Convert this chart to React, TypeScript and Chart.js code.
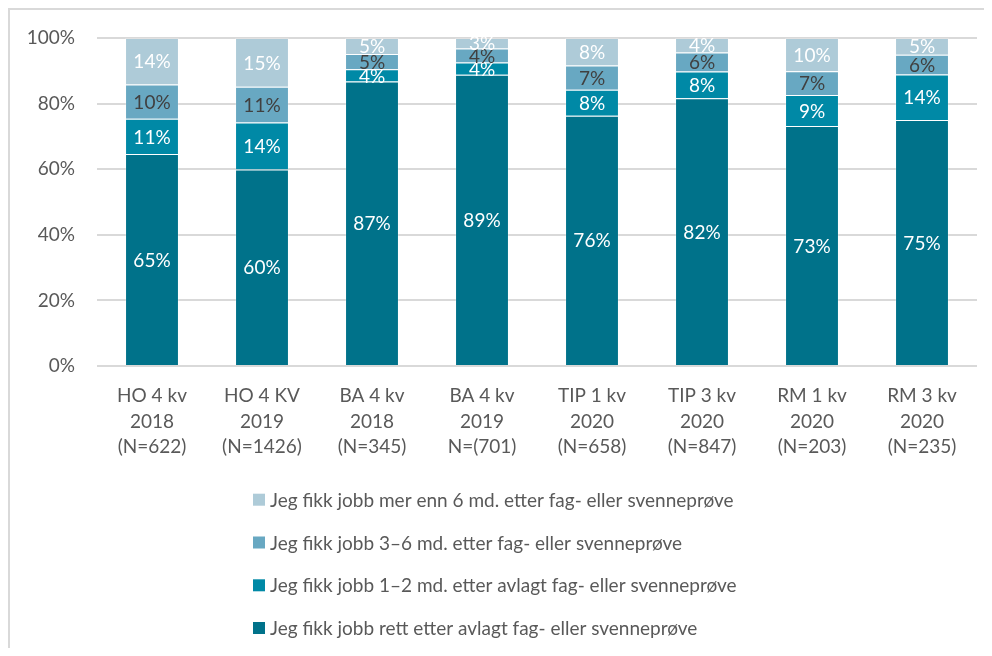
import React, { useEffect, useRef } from "react";
import { Chart, registerables } from "chart.js";

Chart.register(...registerables);

const categories: string[][] = [
  ["HO 4 kv", "2018", "(N=622)"],
  ["HO 4 KV", "2019", "(N=1426)"],
  ["BA 4 kv", "2018", "(N=345)"],
  ["BA 4 kv", "2019", "N=(701)"],
  ["TIP 1 kv", "2020", "(N=658)"],
  ["TIP 3 kv", "2020", "(N=847)"],
  ["RM 1 kv", "2020", "(N=203)"],
  ["RM 3 kv", "2020", "(N=235)"],
];

const seriesNames = [
  "Jeg fikk jobb rett etter avlagt fag- eller svenneprøve",
  "Jeg fikk jobb 1–2 md. etter avlagt fag- eller svenneprøve",
  "Jeg fikk jobb 3–6 md. etter fag- eller svenneprøve",
  "Jeg fikk jobb mer enn 6 md. etter fag- eller svenneprøve",
];

const rettEtter = [64.6, 59.9, 86.7, 88.8, 76.3, 81.6, 73.2, 75.0];
const enTilToMd = [10.8, 14.3, 3.8, 3.7, 7.9, 8.2, 9.4, 13.9];
const treTilSeksMd = [10.4, 10.9, 4.6, 4.3, 7.4, 5.8, 7.3, 6.0];
const merEnnSeksMd = [14.2, 14.9, 4.9, 3.2, 8.4, 4.4, 10.1, 5.1];

const yTicks = [0, 20, 40, 60, 80, 100];

const colors = ["#00728A", "#0089A6", "#68A8C2", "#AECBD8"];
const labelColors = ["#ffffff", "#ffffff", "#404040", "#ffffff"];

const FONT = "Lato, 'Source Sans Pro', sans-serif";
const TEXT = "#595959";

export default function App() {
  const ref = useRef<HTMLCanvasElement | null>(null);

  useEffect(() => {
    if (!ref.current) return;
    const values = [rettEtter, enTilToMd, treTilSeksMd, merEnnSeksMd];

    const dataLabels = {
      id: "dataLabels",
      afterDatasetsDraw(chart: any) {
        const ctx = chart.ctx;
        ctx.save();
        ctx.font = `19px ${FONT}`;
        ctx.textAlign = "center";
        ctx.textBaseline = "middle";
        chart.data.datasets.forEach((ds: any, di: number) => {
          const meta = chart.getDatasetMeta(di);
          meta.data.forEach((el: any, i: number) => {
            const v = ds.data[i];
            const y = (el.y + el.base) / 2;
            ctx.fillStyle = labelColors[di];
            ctx.fillText(Math.round(v) + "%", el.x, y + 1);
          });
        });
        ctx.restore();
      },
    };

    const legendPlugin = {
      id: "colLegend",
      afterDraw(chart: any) {
        const ctx = chart.ctx;
        ctx.save();
        ctx.font = `19px ${FONT}`;
        ctx.textBaseline = "middle";
        ctx.textAlign = "left";
        const x0 = 243;
        const rows = [489.7, 532.5, 575.3, 618];
        const order = [3, 2, 1, 0];
        order.forEach((di, r) => {
          const cy = rows[r];
          ctx.fillStyle = colors[di];
          ctx.fillRect(x0, cy - 6, 12, 12);
          ctx.fillStyle = TEXT;
          ctx.fillText(chart.data.datasets[di].label, x0 + 17, cy + 1);
        });
        ctx.restore();
      },
    };

    const chart = new Chart(ref.current, {
      type: "bar",
      data: {
        labels: categories,
        datasets: values.map((d, i) => ({
          label: seriesNames[i],
          data: d,
          backgroundColor: colors[i],
          borderColor: "rgba(255,255,255,0.22)",
          borderWidth: 1,
          barPercentage: 0.49,
          categoryPercentage: 1,
        })),
      },
      options: {
        responsive: false,
        animation: false,
        layout: { padding: { top: 28, right: 7, left: 0, bottom: 0 } },
        plugins: {
          legend: { display: false },
          tooltip: { enabled: false },
        },
        scales: {
          x: {
            stacked: true,
            grid: { display: false, drawTicks: false },
            border: { display: false },
            ticks: {
              color: TEXT,
              font: { family: FONT, size: 19, lineHeight: 1.35 },
              padding: 17,
              maxRotation: 0,
              autoSkip: false,
            },
            afterFit: (s: any) => {
              s.height = 282;
            },
          },
          y: {
            stacked: true,
            min: 0,
            max: 100,
            afterBuildTicks: (s: any) => {
              s.ticks = yTicks.map((v) => ({ value: v }));
            },
            grid: { color: "#d9d9d9", lineWidth: 2, drawTicks: false },
            border: { display: false },
            ticks: {
              color: TEXT,
              font: { family: FONT, size: 19 },
              padding: 22,
              callback: (v: any) => v + "%",
            },
            afterFit: (s: any) => {
              s.width = 87;
              s.paddingTop = 0;
              s.paddingBottom = 0;
            },
          },
        },
      },
      plugins: [dataLabels, legendPlugin],
    });
    return () => chart.destroy();
  }, []);

  return (
    <div
      style={{
        borderLeft: "2px solid #d9d9d9",
        borderTop: "2px solid #d9d9d9",
        width: 974,
        height: 638,
      }}
    >
      <canvas ref={ref} width={974} height={638} style={{ display: "block" }} />
    </div>
  );
}
